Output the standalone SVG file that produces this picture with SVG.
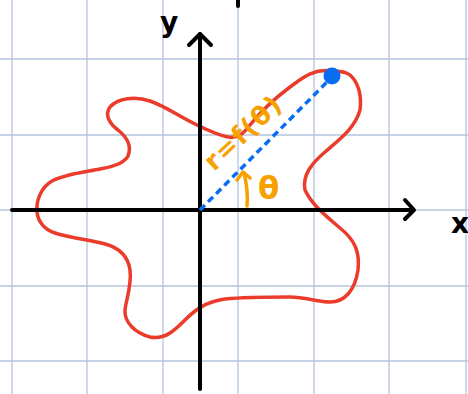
<svg xmlns="http://www.w3.org/2000/svg" width="468" height="394" viewBox="0 0 468 394">
<style>
.grid line{stroke:#b3c4dd;stroke-width:1.3}
.axis{stroke:#000;stroke-width:4;fill:none;stroke-linecap:round;stroke-linejoin:round}
.hand{font-family:"DejaVu Sans",sans-serif;font-weight:bold}
.orange{fill:#f7a100}
</style>
<rect width="468" height="394" fill="#fff"/>
<g class="grid">
<line x1="12" y1="0" x2="12" y2="394"/>
<line x1="87" y1="0" x2="87" y2="394"/>
<line x1="163" y1="0" x2="163" y2="394"/>
<line x1="238" y1="0" x2="238" y2="394"/>
<line x1="314" y1="0" x2="314" y2="394"/>
<line x1="389" y1="0" x2="389" y2="394"/>
<line x1="466" y1="0" x2="466" y2="394"/>
<line x1="0" y1="59" x2="468" y2="59"/>
<line x1="0" y1="135" x2="468" y2="135"/>
<line x1="0" y1="210" x2="468" y2="210"/>
<line x1="0" y1="286" x2="468" y2="286"/>
<line x1="0" y1="361" x2="468" y2="361"/>
</g>
<g id="curve">
<path d="M332,71 C312,68 300,80 290,87 C278,96 262,110 250,125 C244,133 238,139 228,137 C218,135 205,129 195,124 C180,117 165,106 150,101 C135,96 118,98 110,107 C104,115 110,124 118,130 C128,138 132,146 128,156 C124,164 112,167 100,169 C85,172 65,174 52,181 C40,188 36,202 37,212 C38,222 45,230 55,233 C70,238 90,240 105,244 C120,248 128,256 130,270 C132,285 126,300 125,310 C124,322 135,333 150,337 C165,340 175,330 185,320 C195,310 205,302 225,299 C245,297 270,297 290,297 C305,297 318,302 330,302 C345,302 355,290 358,270 C360,252 355,240 340,228 C325,215 312,205 305,190 C302,175 312,163 325,152 C340,139 355,128 360,110 C362,95 358,82 350,75 C345,71 338,71 332,71 Z" fill="none" stroke="#ea3b2b" stroke-width="3.5"/>
</g>
<g id="axes">
<line class="axis" x1="12" y1="210" x2="413" y2="210"/>
<polyline class="axis" points="405,200 414,210 405,219"/>
<line class="axis" x1="200" y1="34" x2="200" y2="389"/>
<polyline class="axis" points="189,45 200,34 211,45"/>
<line class="axis" x1="238" y1="0" x2="238" y2="6" stroke-width="3"/>
</g>
<g id="labels">
<text class="hand" x="160" y="32" font-size="28" fill="#000">y</text>
<text class="hand" x="451" y="233" font-size="28" fill="#000">x</text>
</g>
<g id="ray">
<line x1="200" y1="210" x2="328" y2="81" stroke="#0a6df0" stroke-width="3.5" stroke-dasharray="7,4.5"/>
<circle cx="332" cy="76" r="8.5" fill="#0a6df0"/>
</g>
<g id="angle">
<path d="M247,206 C248,195 247,185 244,173" fill="none" stroke="#f7a100" stroke-width="3.5" stroke-linecap="round"/>
<polyline points="237,180 243,172 250,178" fill="none" stroke="#f7a100" stroke-width="3.5" stroke-linecap="round" stroke-linejoin="round"/>
<text class="hand orange" x="258" y="199" font-size="31">θ</text>
</g>
<g id="formula">
<text class="hand orange" font-size="26" letter-spacing="1.5" transform="translate(214,172) rotate(-43)">r=f(θ)</text>
</g>
</svg>
